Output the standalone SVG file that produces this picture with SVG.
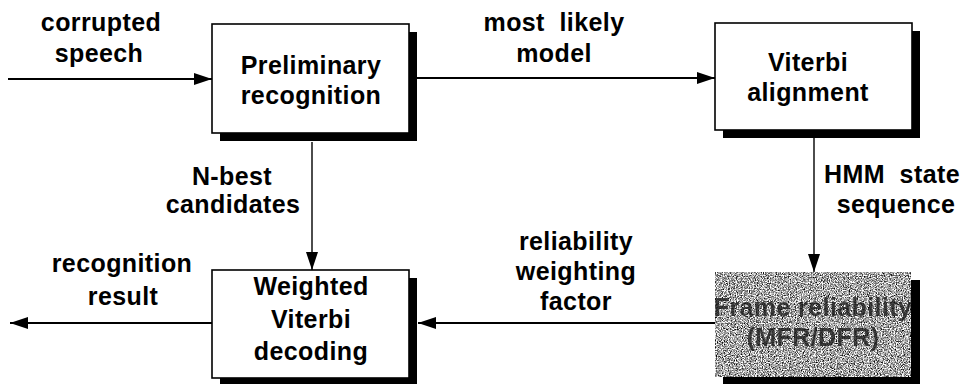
<svg xmlns="http://www.w3.org/2000/svg" width="970" height="385" viewBox="0 0 970 385">
<style>
  text { font-family: "Liberation Sans", Arial, Helvetica, sans-serif; font-weight: bold; font-size: 25px; letter-spacing: 0.4px; fill: #000; text-anchor: middle; }
  .box { fill: #fff; stroke: #000; stroke-width: 1.6; }
  .shadow { fill: #000; }
  .line { stroke: #000; stroke-width: 1.8; fill: none; }
  .vline { stroke: #000; stroke-width: 1.4; fill: none; }
  .frametext { fill: #1a1a1a; opacity: 0.8; }
</style>
<defs>
  <marker id="arrow" viewBox="0 0 18 12" refX="18" refY="6" markerWidth="18" markerHeight="12" markerUnits="userSpaceOnUse" orient="auto">
    <path d="M0,0 L18,6 L0,12 Z" fill="#000"/>
  </marker>
  <filter id="grain" x="0" y="0" width="100%" height="100%" color-interpolation-filters="sRGB">
    <feTurbulence type="fractalNoise" baseFrequency="0.85" numOctaves="2" seed="7" result="noise"/>
    <feColorMatrix in="noise" type="saturate" values="0" result="gray"/>
    <feComponentTransfer in="gray">
      <feFuncR type="linear" slope="3" intercept="-0.85"/>
      <feFuncG type="linear" slope="3" intercept="-0.85"/>
      <feFuncB type="linear" slope="3" intercept="-0.85"/>
      <feFuncA type="linear" slope="0" intercept="1"/>
    </feComponentTransfer>
    <feComposite in2="SourceGraphic" operator="in"/>
  </filter>
</defs>

<g id="connectors">
  <line class="line" x1="8" y1="79" x2="212" y2="79" marker-end="url(#arrow)"/>
  <line class="line" x1="417" y1="78" x2="715" y2="78" marker-end="url(#arrow)"/>
  <line class="vline" x1="814" y1="138" x2="814" y2="272" marker-end="url(#arrow)"/>
  <line class="vline" x1="312" y1="142" x2="312" y2="270" marker-end="url(#arrow)"/>
  <line class="line" x1="715" y1="323" x2="418" y2="323" marker-end="url(#arrow)"/>
  <line class="line" x1="212" y1="323" x2="10" y2="323" marker-end="url(#arrow)"/>
</g>

<g id="labels">
  <text x="101" y="31">corrupted</text>
  <text x="99" y="62">speech</text>
  <text x="554" y="31" xml:space="preserve">most  likely</text>
  <text x="554" y="62">model</text>
  <text x="232" y="185">N-best</text>
  <text x="233" y="213">candidates</text>
  <text x="892" y="183" xml:space="preserve">HMM  state</text>
  <text x="896" y="213">sequence</text>
  <text x="576" y="250">reliability</text>
  <text x="576" y="280">weighting</text>
  <text x="576" y="310">factor</text>
  <text x="122" y="272">recognition</text>
  <text x="123" y="305">result</text>
</g>

<g id="preliminary">
  <rect class="shadow" x="220" y="32" width="197" height="109"/>
  <rect class="box" x="212" y="24" width="197" height="109"/>
  <text x="311" y="74">Preliminary</text>
  <text x="311" y="104">recognition</text>
</g>

<g id="viterbi-alignment">
  <rect class="shadow" x="723" y="31" width="197" height="107"/>
  <rect class="box" x="715" y="23" width="197" height="107"/>
  <text x="808" y="71">Viterbi</text>
  <text x="808" y="101">alignment</text>
</g>

<g id="weighted-viterbi">
  <rect class="shadow" x="220" y="278" width="197" height="106"/>
  <rect class="box" x="212" y="270" width="197" height="108"/>
  <text x="311" y="295">Weighted</text>
  <text x="311" y="328">Viterbi</text>
  <text x="311" y="360">decoding</text>
</g>

<g id="frame-reliability">
  <rect class="shadow" x="723" y="280" width="197" height="104"/>
  <rect x="715" y="272" width="196" height="105" fill="#999" filter="url(#grain)"/>
  <text class="frametext" x="813" y="316">Frame reliability</text>
  <text class="frametext" x="813" y="346">(MFR/DFR)</text>
</g>
</svg>
